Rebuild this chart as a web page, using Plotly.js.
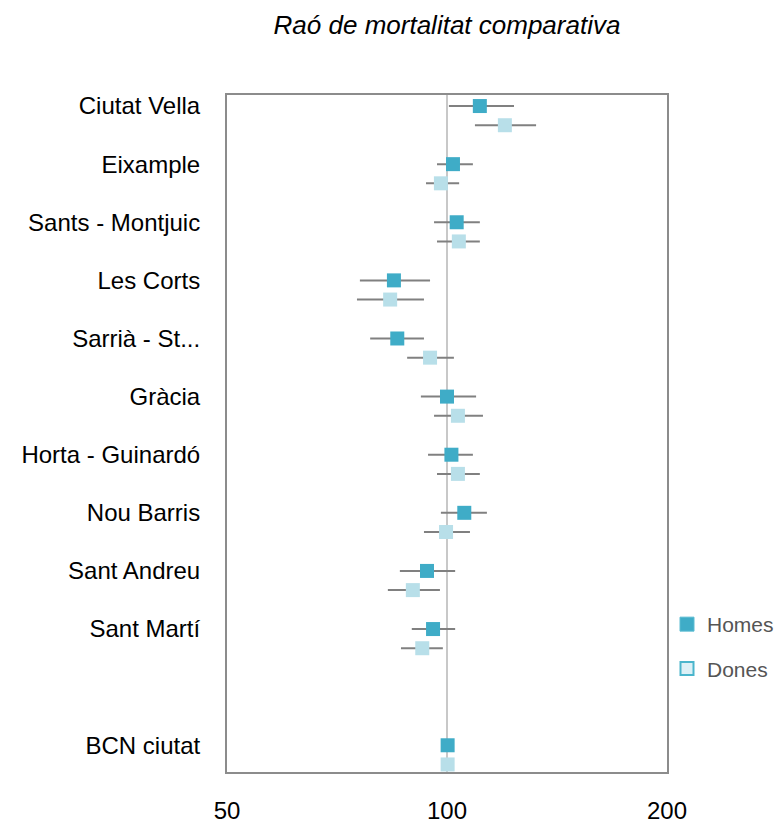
<!DOCTYPE html>
<html>
<head>
<meta charset="utf-8">
<script src="https://cdn.plot.ly/plotly-3.0.1.min.js"></script>
<style>html,body{margin:0;padding:0;background:#fff;}#chart{width:777px;height:826px;}</style>
</head>
<body>
<div id="chart"></div>
<script>
// Categories (empty slot before the city total)
const categories = ['Ciutat Vella','Eixample','Sants - Montjuic','Les Corts','Sarrià - St...','Gràcia','Horta - Guinardó','Nou Barris','Sant Andreu','Sant Martí','','BCN ciutat'];

// Homes (men): ratio and 95% CI
const homesValue = [110.9, 101.9, 103.1, 84.6, 85.5, 100.0, 101.4, 105.6, 93.9, 95.7, null, 100.2];
const homesLow   = [100.6,  96.9,  96.0, 76.0, 78.5,  92.1,  94.2,  98.1, 86.2, 89.5, null, 100.2];
const homesHigh  = [123.5, 108.5, 110.9, 94.8, 93.0, 109.6, 108.5, 113.4, 102.6, 102.6, null, 100.2];

// Dones (women): ratio and 95% CI
const donesValue = [120.0,  98.1, 103.8, 83.6, 94.8, 103.5, 103.5,  99.7, 89.8, 92.5, null, 100.2];
const donesLow   = [109.2,  93.6,  96.9, 75.3, 88.2,  96.0,  96.9,  93.0, 83.0, 86.5, null, 100.2];
const donesHigh  = [132.4, 103.9, 110.9, 93.0, 102.2, 112.0, 110.9, 107.5, 97.8, 98.7, null, 100.2];

const xTicks = [50, 100, 200];
const xTickText = ['50', '100', '200'];

const rowIdx = categories.map((c, i) => i);
const donesShift = 0.33;

const homesColor = '#3FACC7';
const donesColor = '#B8DFE9';

function errs(vals, lo, hi) {
  return {
    type: 'data', symmetric: false,
    array: vals.map((v, i) => v == null ? null : hi[i] - v),
    arrayminus: vals.map((v, i) => v == null ? null : v - lo[i]),
    color: '#808080', thickness: 2, width: 0
  };
}

const traceHomes = {
  type: 'scatter', mode: 'markers', name: 'Homes', showlegend: false,
  x: homesValue, y: rowIdx,
  error_x: errs(homesValue, homesLow, homesHigh),
  marker: {symbol: 'square', size: 14, color: homesColor},
  hoverinfo: 'x'
};
const traceDones = {
  type: 'scatter', mode: 'markers', name: 'Dones', showlegend: false,
  x: donesValue, y: rowIdx.map(i => i + donesShift),
  error_x: errs(donesValue, donesLow, donesHigh),
  marker: {symbol: 'square', size: 14, color: donesColor},
  hoverinfo: 'x'
};
// legend-only entries (legend swatches styled as in the reference)
const legHomes = {
  type: 'scatter', mode: 'markers', name: 'Homes', legendgroup: 'h',
  x: [null], y: [null],
  marker: {symbol: 'square', size: 14, color: homesColor, line: {color: '#5cbcd2', width: 1}}
};
const legDones = {
  type: 'scatter', mode: 'markers', name: 'Dones', legendgroup: 'd',
  x: [null], y: [null],
  marker: {symbol: 'square', size: 13, color: '#DCF0F6', line: {color: '#4AB5CC', width: 2}}
};

const layout = {
  width: 777, height: 826,
  margin: {l: 227, r: 110, t: 95, b: 54},
  paper_bgcolor: '#fff', plot_bgcolor: '#fff',
  font: {family: 'Liberation Sans, Arial, sans-serif', color: '#000'},
  title: {
    text: '<i>Raó de mortalitat comparativa</i>',
    font: {family: 'Liberation Sans, Arial, sans-serif', size: 26, color: '#000'},
    x: 0.5, xref: 'paper', xanchor: 'center', y: 0.97, yref: 'container', yanchor: 'middle'
  },
  xaxis: {
    type: 'log', range: [Math.log10(50), Math.log10(200)],
    tickvals: xTicks, ticktext: xTickText,
    showgrid: true, gridcolor: '#c8c8c8', gridwidth: 2,
    showline: true, linecolor: '#8c8c8c', linewidth: 2, mirror: true,
    ticks: '', ticklabelstandoff: 16,
    tickfont: {size: 24, color: '#000'},
    zeroline: false, fixedrange: true, automargin: false
  },
  yaxis: {
    range: [11.46, -0.19], autorange: false,
    tickvals: rowIdx, ticktext: categories,
    showgrid: false, zeroline: false,
    showline: true, linecolor: '#8c8c8c', linewidth: 2, mirror: true,
    ticks: '', ticklabelstandoff: 20,
    tickfont: {size: 24, color: '#000'}, fixedrange: true, automargin: false
  },
  showlegend: true,
  legend: {
    xref: 'container', yref: 'container',
    x: 667/777, xanchor: 'left', y: 1 - 604/826, yanchor: 'top',
    font: {size: 21, color: '#555'}, tracegroupgap: 14,
    bgcolor: 'rgba(0,0,0,0)'
  }
};

Plotly.newPlot('chart', [traceHomes, traceDones, legHomes, legDones], layout, {displayModeBar: false, staticPlot: true});
</script>
</body>
</html>
